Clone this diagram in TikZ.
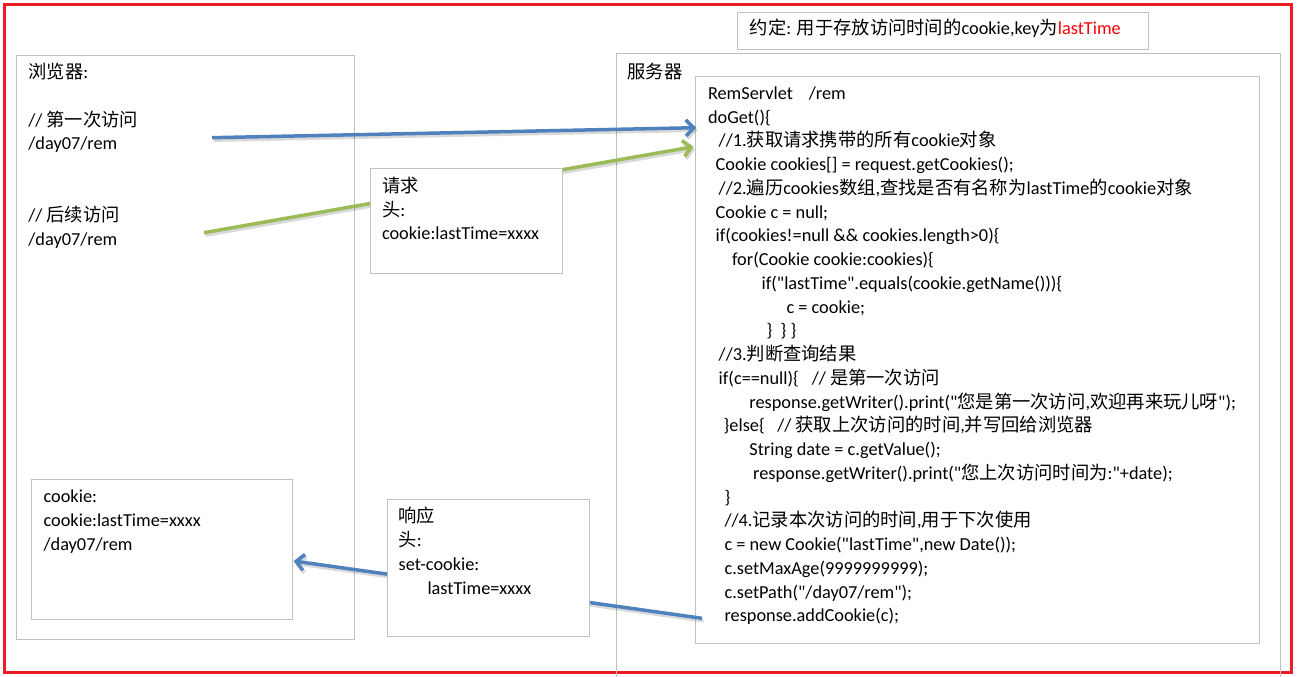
\documentclass[tikz,border=0pt]{standalone}
\usepackage{fontspec}
\newfontfamily\calfont{Carlito}
\newfontfamily\cjkfont{Noto Sans CJK SC}
\usetikzlibrary{arrows.meta}
\definecolor{boxgray}{RGB}{191,191,191}
\definecolor{arrblue}{RGB}{79,129,189}
\definecolor{arrgreen}{RGB}{155,187,89}
\definecolor{framered}{RGB}{237,28,36}
\definecolor{notered}{RGB}{255,0,0}
\newcommand\zh[1]{{\cjkfont #1}}
\begin{document}
\begin{tikzpicture}[x=1pt,y=-1pt,
  gbox/.style={draw=boxgray,line width=1pt,fill=white,inner sep=0pt,outer sep=0pt,anchor=north west},
  txt/.style={anchor=base west,inner sep=0pt,outer sep=0pt,font=\calfont\fontsize{18.3}{22}\selectfont},
  arr/.style={line width=3.5pt,-{Straight Barb[length=8pt,width=16pt]}},
  arrshadow/.style={line width=3.5pt,draw=black,opacity=0.15,-{Straight Barb[length=8pt,width=16pt]}}
]
\useasboundingbox (0,0) rectangle (1301,677);
\fill[white] (0,0) rectangle (1301,677);
% frame
\draw[framered,line width=3pt] (4.7,4.7) rectangle (1291.5,672.3);
% containers
\node[gbox,minimum width=337.5pt,minimum height=583.6pt] (browser) at (16.5,55.7) {};
\draw[boxgray,line width=1pt] (616.5,690) |- (1280.4,54) -- (1280.4,690);
\coordinate (server) at (616.5,54);
\node[gbox,minimum width=564.4pt,minimum height=566.8pt] (code) at (695,76.5) {};
\node[gbox,minimum width=261.5pt,minimum height=140pt] (cookiebox) at (31.2,479.3) {};
\node[gbox,minimum width=411.3pt,minimum height=37pt] (note) at (737.2,12.3) {};
% arrow end points
\coordinate (b1s) at (212,137.7);
\coordinate (b1e) at (696.3,127.7);
\coordinate (g1s) at (204,232.7);
\coordinate (g1e) at (693.6,146.7);
\coordinate (b2s) at (702,618.3);
\coordinate (b2e) at (293.6,561);
% shadows
\draw[arrshadow] ([shift={(1.5,2.5)}]b1s) -- ([shift={(1.5,2.5)}]b1e);
\draw[arrshadow] ([shift={(1.5,2.5)}]g1s) -- ([shift={(1.5,2.5)}]g1e);
\draw[arrshadow] ([shift={(1.5,2.5)}]b2s) -- ([shift={(1.5,2.5)}]b2e);
% arrows
\draw[arr,arrblue] (b1s) -- (b1e);
\draw[arr,arrgreen] (g1s) -- (g1e);
\draw[arr,arrblue] (b2s) -- (b2e);
% header boxes on top
\node[gbox,minimum width=191.8pt,minimum height=104.6pt] (request) at (370.2,168.7) {};
\node[gbox,minimum width=201.8pt,minimum height=137pt] (response) at (387.2,499.3) {};
% note text
\node[txt] (notetxt) at (749.8,34.5) {\zh{约定}: \zh{用于存放访问时间的}cookie,key\zh{为}\textcolor{notered}{lastTime}};
% browser texts
\node[txt] (bl0) at (28.4,78) {\zh{浏览器}:};
\node[txt] (bl1) at (28.4,126.5) {// \zh{第一次访问}};
\node[txt] (bl2) at (28.4,149.5) {/day07/rem};
\node[txt] (bl3) at (28.4,221) {// \zh{后续访问}};
\node[txt] (bl4) at (28.4,245) {/day07/rem};
% request texts
\node[txt] (rq1) at (382,192) {\zh{请求}};
\node[txt] (rq2) at (382,216) {\zh{头}:};
\node[txt] (rq3) at (382,239.5) {cookie:lastTime=xxxx};
% cookie box texts
\node[txt] (ck1) at (43.6,502.7) {cookie:};
\node[txt] (ck2) at (43.6,526.5) {cookie:lastTime=xxxx};
\node[txt] (ck3) at (43.6,550.3) {/day07/rem};
% response texts
\node[txt] (rs1) at (398.6,522.5) {\zh{响应}};
\node[txt] (rs2) at (398.6,546.5) {\zh{头}:};
\node[txt] (rs3) at (398.6,570.3) {set-cookie:};
\node[txt] (rs4) at (427.5,594) {lastTime=xxxx};
% server
\node[txt] (sv) at (627.5,78) {\zh{服务器}};
% code
\node[txt] (c1) at (708,99.3) {RemServlet};
\node[txt] (c1b) at (808.8,99.3) {/rem};
\node[txt] (c2) at (708,123.05) {doGet()\{};
\node[txt] (c3) at (718.7,146.8) {//1.\zh{获取请求携带的所有}cookie\zh{对象}};
\node[txt] (c4) at (715.7,170.55) {Cookie cookies[] = request.getCookies();};
\node[txt] (c5) at (718.7,194.3) {//2.\zh{遍历}cookies\zh{数组},\zh{查找是否有名称为}lastTime\zh{的}cookie\zh{对象}};
\node[txt] (c6) at (715.7,218.05) {Cookie c = null;};
\node[txt] (c7) at (715.7,241.8) {if(cookies!=null \&\& cookies.length>0)\{};
\node[txt] (c8) at (732,265.55) {for(Cookie cookie:cookies)\{};
\node[txt] (c9) at (761.6,289.3) {if("lastTime".equals(cookie.getName()))\{};
\node[txt] (c10) at (786.5,313.05) {c = cookie;};
\node[txt] (c11) at (766.6,336.8) {\}\ \ \} \}};
\node[txt] (c12) at (718.7,360.55) {//3.\zh{判断查询结果}};
\node[txt] (c13) at (718.7,384.3) {if(c==null)\{};
\node[txt] (c13b) at (811.8,384.3) {// \zh{是第一次访问}};
\node[txt] (c14) at (749.4,408.05) {response.getWriter().print("\zh{您是第一次访问},\zh{欢迎再来玩儿呀}");};
\node[txt] (c15) at (723.7,431.8) {\}else\{};
\node[txt] (c15b) at (777.4,431.8) {// \zh{获取上次访问的时间},\zh{并写回给浏览器}};
\node[txt] (c16) at (749.4,455.55) {String date = c.getValue();};
\node[txt] (c17) at (753.2,479.3) {response.getWriter().print("\zh{您上次访问时间为}:"+date);};
\node[txt] (c18) at (724.5,503.05) {\}};
\node[txt] (c19) at (724.5,526.8) {//4.\zh{记录本次访问的时间},\zh{用于下次使用}};
\node[txt] (c20) at (724.5,550.55) {c = new Cookie("lastTime",new Date());};
\node[txt] (c21) at (724.5,574.3) {c.setMaxAge(9999999999);};
\node[txt] (c22) at (724.5,598.05) {c.setPath("/day07/rem");};
\node[txt] (c23) at (724.5,621.8) {response.addCookie(c);};
\end{tikzpicture}
\end{document}
